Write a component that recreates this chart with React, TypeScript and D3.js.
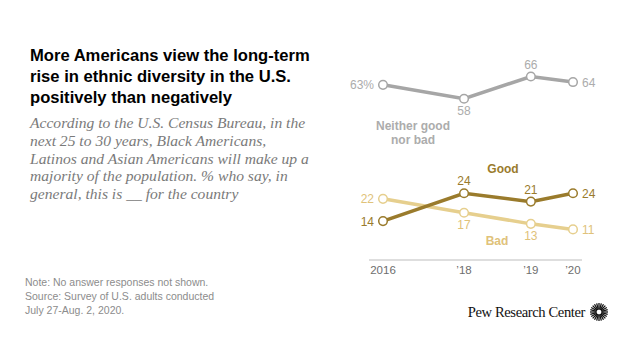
import React, { useEffect, useRef } from 'react';
import * as d3 from 'd3';

// survey dates (approximate), shown on the x axis
const dates = ['2016-02-01', '2018-01-01', '2019-08-01', '2020-07-30'];
const tickLabels = ['2016', '\u201918', '\u201919', '\u201920'];

const neitherValues = [63, 58, 66, 64];
const goodValues = [14, 24, 21, 24];
const badValues = [22, 17, 13, 11];

const neitherLabels = ['63%', '58', '66', '64'];

const titleLines = [
  'More Americans view the long-term',
  'rise in ethnic diversity in the U.S.',
  'positively than negatively',
];
const subtitleLines = [
  'According to the U.S. Census Bureau, in the',
  'next 25 to 30 years, Black Americans,',
  'Latinos and Asian Americans will make up a',
  'majority of the population. % who say, in',
  'general, this is __ for the country',
];
const noteLines = [
  'Note: No answer responses not shown.',
  'Source: Survey of U.S. adults conducted',
  'July 27-Aug. 2, 2020.',
];

const App = () => {
  const svgRef = useRef<SVGSVGElement>(null);

  useEffect(() => {
    const svg = d3.select(svgRef.current);
    svg.selectAll('*').remove();

    const parse = d3.timeParse('%Y-%m-%d');
    const xDates = dates.map(d => parse(d) as Date);

    const x = d3.scaleTime()
      .domain([xDates[0], xDates[xDates.length - 1]])
      .range([383, 573]);

    const y = d3.scaleLinear()
      .domain([0, 66])
      .range([260, 76.5]);

    const sans = "'Liberation Sans', Arial, sans-serif";

    // Title
    svg.append('g').selectAll('text')
      .data(titleLines)
      .enter().append('text')
      .attr('x', 30)
      .attr('y', (d, i) => 61 + i * 21)
      .attr('font-family', sans)
      .attr('font-weight', 'bold')
      .attr('font-size', 16.6)
      .attr('fill', '#000')
      .text(d => d);

    // Subtitle
    svg.append('g').selectAll('text')
      .data(subtitleLines)
      .enter().append('text')
      .attr('x', 30)
      .attr('y', (d, i) => 128 + i * 17.8)
      .attr('font-family', "'Liberation Serif', 'Times New Roman', serif")
      .attr('font-style', 'italic')
      .attr('font-size', 15.6)
      .attr('fill', '#7a7a7a')
      .text(d => d);

    // Notes
    svg.append('g').selectAll('text')
      .data(noteLines)
      .enter().append('text')
      .attr('x', 25)
      .attr('y', (d, i) => 286 + i * 14.2)
      .attr('font-family', sans)
      .attr('font-size', 10.5)
      .attr('fill', '#8c8c8c')
      .text(d => d);

    // x axis
    const axis = svg.append('g').attr('transform', 'translate(0,260)');
    axis.append('line')
      .attr('x1', 369).attr('x2', 582)
      .attr('stroke', '#bdbdbd').attr('stroke-width', 1);
    axis.selectAll('text.tick')
      .data(xDates)
      .enter().append('text')
      .attr('class', 'tick')
      .attr('x', d => x(d))
      .attr('y', 14)
      .attr('text-anchor', 'middle')
      .attr('font-family', sans)
      .attr('font-size', 11.5)
      .attr('fill', '#6e6e6e')
      .text((d, i) => tickLabels[i]);

    const series = [
      { values: neitherValues, color: '#a6a6a6', labelColor: '#acacac', labels: neitherLabels, pos: ['left', 'below', 'above', 'right'] },
      { values: badValues, color: '#e6cf8e', labelColor: '#e0c27a', labels: badValues.map(String), pos: ['left', 'below', 'below', 'right'] },
      { values: goodValues, color: '#9a7b2c', labelColor: '#9a7b2c', labels: goodValues.map(String), pos: ['left', 'above', 'above', 'right'] },
    ];

    const line = d3.line<number>()
      .x((d, i) => x(xDates[i]))
      .y(d => y(d));

    series.forEach(s => {
      const g = svg.append('g');
      g.append('path')
        .datum(s.values)
        .attr('d', line)
        .attr('fill', 'none')
        .attr('stroke', s.color)
        .attr('stroke-width', 3.5);

      g.selectAll('circle')
        .data(s.values)
        .enter().append('circle')
        .attr('cx', (d, i) => x(xDates[i]))
        .attr('cy', d => y(d))
        .attr('r', 4.3)
        .attr('fill', '#fff')
        .attr('stroke', s.color)
        .attr('stroke-width', 1.5);

      g.selectAll('text')
        .data(s.values)
        .enter().append('text')
        .attr('x', (d, i) => {
          const px = x(xDates[i]);
          if (s.pos[i] === 'left') return px - 9;
          if (s.pos[i] === 'right') return px + 9;
          return px;
        })
        .attr('y', (d, i) => {
          const py = y(d);
          if (s.pos[i] === 'above') return py - 8;
          if (s.pos[i] === 'below') return py + 16;
          return py + 4.5;
        })
        .attr('text-anchor', (d, i) => s.pos[i] === 'left' ? 'end' : s.pos[i] === 'right' ? 'start' : 'middle')
        .attr('font-family', sans)
        .attr('font-size', 12)
        .attr('fill', s.labelColor)
        .text((d, i) => s.labels[i]);
    });

    // series names
    const names = [
      { lines: ['Neither good', 'nor bad'], x: 413, y: 130, color: '#acacac' },
      { lines: ['Good'], x: 503, y: 173, color: '#9a7b2c' },
      { lines: ['Bad'], x: 497, y: 245, color: '#e0c27a' },
    ];
    names.forEach(n => {
      svg.append('g').selectAll('text')
        .data(n.lines)
        .enter().append('text')
        .attr('x', n.x)
        .attr('y', (d, i) => n.y + i * 14)
        .attr('text-anchor', 'middle')
        .attr('font-family', sans)
        .attr('font-weight', 'bold')
        .attr('font-size', 12)
        .attr('fill', n.color)
        .text(d => d);
    });

    // logo
    svg.append('text')
      .attr('x', 585)
      .attr('y', 317)
      .attr('text-anchor', 'end')
      .attr('font-family', "'Liberation Serif', 'Times New Roman', serif")
      .attr('font-size', 14.6)
      .attr('letter-spacing', -0.4)
      .attr('fill', '#111')
      .text('Pew Research Center');

    const burst = svg.append('g').attr('transform', 'translate(599,312)');
    burst.selectAll('line')
      .data(d3.range(24))
      .enter().append('line')
      .attr('x1', d => Math.cos(d / 24 * 2 * Math.PI) * 2.5)
      .attr('y1', d => Math.sin(d / 24 * 2 * Math.PI) * 2.5)
      .attr('x2', d => Math.cos(d / 24 * 2 * Math.PI) * 9)
      .attr('y2', d => Math.sin(d / 24 * 2 * Math.PI) * 9)
      .attr('stroke', '#111')
      .attr('stroke-width', 1.3);
  }, []);

  return (
    <div style={{ width: 640, height: 360, margin: -8 }}>
      <svg ref={svgRef} width={640} height={360} style={{ display: 'block', background: '#fff' }}></svg>
    </div>
  );
};

export default App;
